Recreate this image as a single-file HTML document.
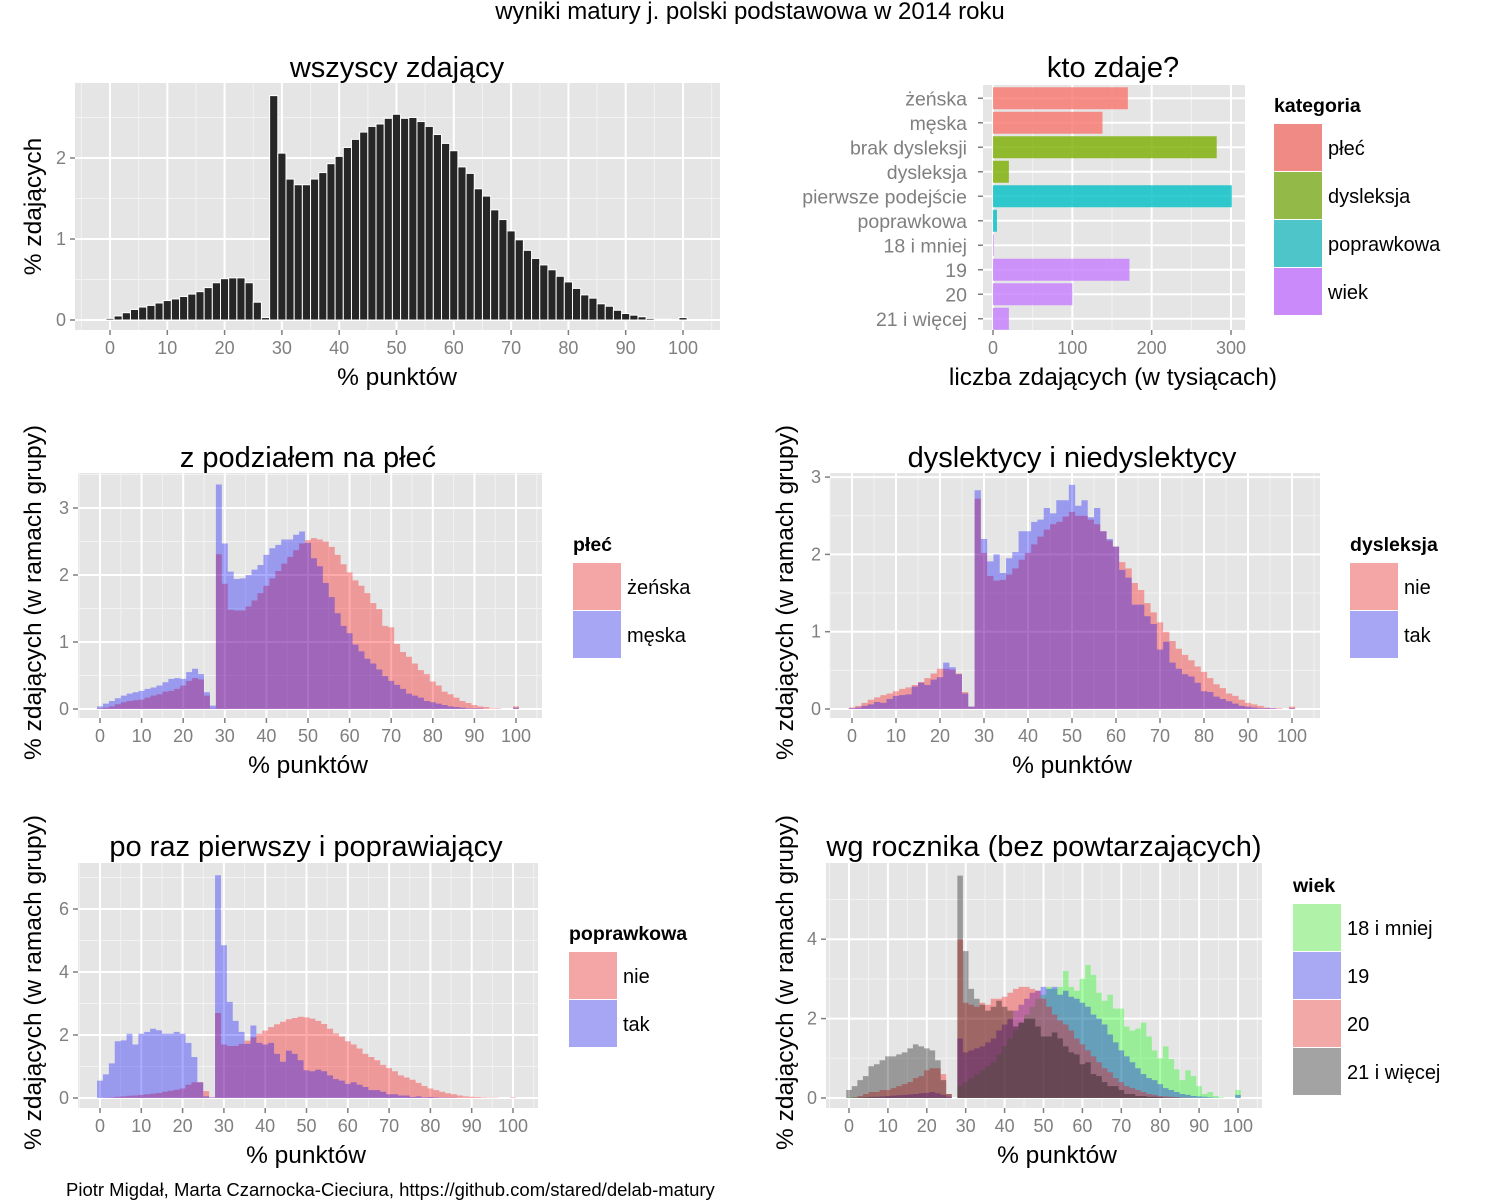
<!DOCTYPE html>
<html><head><meta charset="utf-8">
<style>
html,body{margin:0;padding:0;background:#fff;}
svg{display:block;font-family:"Liberation Sans","DejaVu Sans",sans-serif;}
</style></head>
<body>
<svg id="root" width="1500" height="1200" viewBox="0 0 1500 1200" xmlns="http://www.w3.org/2000/svg">
<rect x="0" y="0" width="1500" height="1200" fill="#fff"/>
<text x="750" y="19" text-anchor="middle" font-size="24" fill="#000">wyniki matury j. polski podstawowa w 2014 roku</text>
<text x="66" y="1196" font-size="18.5" fill="#000">Piotr Migdał, Marta Czarnocka-Cieciura, https://github.com/stared/delab-matury</text>
</svg>
<script>
// ---------- data ----------
const allScores = [0.02,0.05,0.09,0.13,0.16,0.18,0.21,0.24,0.26,0.29,0.32,0.35,0.40,0.46,0.51,0.52,0.52,0.46,0.22,0.03,
2.77,2.06,1.74,1.67,1.67,1.74,1.82,1.93,2.02,2.13,2.23,2.32,2.39,2.42,2.49,2.54,2.49,2.5,2.45,2.39,2.29,2.18,2.09,1.89,1.81,1.62,1.53,1.36,1.24,1.1,0.99,0.86,0.76,0.68,0.62,0.54,0.47,0.39,0.31,0.27,0.2,0.17,0.12,0.08,0.06,0.04,0.02,0.01,0.01,0,0.03];

const kategorie = ["żeńska","męska","brak dysleksji","dysleksja","pierwsze podejście","poprawkowa","18 i mniej","19","20","21 i więcej"];
const liczba = [170,138,282,20,301,5,1,172,100,20];
const grupa = [0,0,1,1,2,2,3,3,3,3];
const grupyNazwy = ["płeć","dysleksja","poprawkowa","wiek"];

const female = [0.01,0.02,0.04,0.07,0.1,0.12,0.13,0.14,0.17,0.2,0.22,0.26,0.27,0.3,0.35,0.42,0.46,0.44,0.2,0.01,
2.31,1.87,1.48,1.47,1.47,1.53,1.62,1.73,1.84,1.95,2.06,2.17,2.27,2.37,2.47,2.52,2.55,2.53,2.5,2.42,2.3,2.16,2.04,1.92,1.84,1.73,1.58,1.49,1.24,1.22,0.97,0.85,0.78,0.68,0.58,0.52,0.41,0.35,0.26,0.22,0.17,0.12,0.09,0.06,0.04,0.03,0.01,0.01,0,0,0.04];
const male = [0.04,0.08,0.12,0.16,0.20,0.23,0.25,0.27,0.30,0.32,0.35,0.40,0.45,0.46,0.45,0.55,0.6,0.52,0.25,0.05,
3.35,2.47,2.05,1.94,1.95,2.0,2.08,2.15,2.3,2.4,2.45,2.53,2.53,2.6,2.65,2.48,2.25,2.13,1.88,1.67,1.43,1.24,1.13,0.96,0.86,0.75,0.68,0.59,0.49,0.42,0.36,0.3,0.23,0.2,0.17,0.12,0.1,0.08,0.06,0.04,0.03,0.02,0.01,0.01,0.01,0,0,0,0,0,0.02];

const dysNie = [0.02,0.04,0.08,0.12,0.15,0.18,0.2,0.23,0.26,0.28,0.31,0.35,0.4,0.46,0.52,0.52,0.51,0.46,0.22,0.03,
2.72,2.02,1.72,1.66,1.67,1.74,1.82,1.93,2.02,2.13,2.23,2.32,2.39,2.42,2.49,2.55,2.5,2.5,2.45,2.39,2.3,2.18,2.1,1.9,1.82,1.63,1.54,1.37,1.25,1.12,1.0,0.88,0.78,0.7,0.63,0.55,0.48,0.4,0.32,0.27,0.2,0.17,0.12,0.08,0.06,0.04,0.02,0.01,0.01,0,0.03];
const dysTak = [0.01,0.02,0.04,0.06,0.09,0.08,0.13,0.17,0.18,0.19,0.29,0.34,0.31,0.38,0.41,0.6,0.54,0.45,0.2,0.03,
2.83,2.2,1.91,2.0,1.76,1.95,2.03,2.3,2.3,2.42,2.45,2.6,2.53,2.7,2.7,2.9,2.63,2.7,2.48,2.6,2.3,2.2,2.1,1.8,1.7,1.35,1.35,1.2,1.1,0.77,0.87,0.6,0.52,0.45,0.42,0.34,0.23,0.22,0.16,0.13,0.1,0.07,0.04,0.03,0.02,0.01,0.01,0.01,0,0,0.01];

const popNie = [0,0.01,0.02,0.04,0.05,0.07,0.08,0.1,0.12,0.14,0.16,0.2,0.23,0.26,0.3,0.42,0.5,0.5,0.22,0.02,
2.7,1.7,1.65,1.65,1.72,1.82,1.93,2.04,2.14,2.25,2.34,2.42,2.5,2.54,2.58,2.56,2.52,2.45,2.35,2.2,2.05,1.95,1.8,1.7,1.57,1.4,1.3,1.2,1.05,0.95,0.85,0.72,0.65,0.58,0.48,0.38,0.3,0.25,0.2,0.15,0.12,0.08,0.05,0.04,0.03,0.02,0.01,0.01,0,0,0.02];
const popTak = [0.55,0.75,1.1,1.8,1.83,2.04,1.7,2.04,2.1,2.2,2.15,2.04,2.04,2.1,2.04,1.75,1.3,0.5,0.05,0.02,
7.07,4.85,3.05,2.45,2.1,1.72,2.3,1.75,1.7,1.75,1.4,1.15,1.5,1.4,1.2,0.88,0.85,0.9,0.85,0.72,0.6,0.55,0.45,0.5,0.42,0.35,0.25,0.25,0.2,0.12,0.12,0.08,0.08,0.03,0.05,0.02,0.03,0.02,0.01,0.01,0.01,0,0,0,0,0,0,0,0,0,0];

const wiek18 = [0.02,0.02,0.02,0.02,0.02,0.02,0.02,0.02,0.02,0.02,0.02,0.02,0.02,0.02,0.02,0.02,0.02,0.02,0,0,
0.3,0.4,0.5,0.6,0.7,0.8,0.9,1.1,1.3,1.5,1.7,1.9,2.1,2.3,2.5,2.6,2.8,2.75,2.8,3.2,2.8,2.7,3.0,3.35,3.1,2.65,2.45,2.6,2.25,2.25,1.8,1.7,1.75,1.9,1.55,1.2,1.0,1.3,0.98,0.72,0.45,0.7,0.55,0.3,0.1,0.15,0.05,0.02,0,0,0.2];
const wiek19 = [0,0,0.01,0.02,0.03,0.03,0.04,0.05,0.06,0.07,0.08,0.09,0.1,0.12,0.13,0.15,0.12,0.08,0.03,0,
1.5,1.15,1.2,1.25,1.3,1.4,1.5,1.7,1.85,2.0,2.2,2.35,2.5,2.65,2.7,2.8,2.75,2.8,2.6,2.7,2.55,2.5,2.4,2.3,2.1,2.0,1.85,1.6,1.4,1.2,1.05,0.9,0.75,0.6,0.5,0.45,0.35,0.25,0.2,0.15,0.1,0.08,0.05,0.04,0.03,0.02,0.01,0,0,0,0.08];
const wiek20 = [0,0.02,0.05,0.1,0.15,0.15,0.2,0.2,0.25,0.3,0.35,0.4,0.5,0.55,0.7,0.75,0.75,0.6,0.1,0,
4.0,2.4,2.35,2.3,2.4,2.35,2.5,2.5,2.55,2.65,2.75,2.8,2.8,2.75,2.7,2.5,2.3,2.1,1.95,1.85,1.7,1.5,1.35,1.2,1.05,0.9,0.75,0.65,0.5,0.4,0.3,0.25,0.2,0.15,0.1,0.08,0.05,0.04,0.03,0.02,0.01,0.01,0,0,0,0,0,0,0,0,0];
const wiek21 = [0.2,0.3,0.45,0.55,0.8,0.85,0.95,1.05,1.05,1.1,1.15,1.25,1.35,1.3,1.25,1.2,0.95,0.45,0.1,0,
5.6,3.7,2.75,2.5,2.35,2.2,2.3,2.45,2.3,2.2,1.8,1.9,2.0,2.0,1.8,1.55,1.55,1.65,1.5,1.3,1.15,1.1,0.85,0.9,0.6,0.55,0.4,0.3,0.3,0.2,0.1,0.1,0.05,0.05,0.03,0.03,0.02,0.01,0.01,0.01,0,0,0,0,0,0,0,0,0,0,0];

const xTicks = [0,10,20,30,40,50,60,70,80,90,100];
const barTicks = [0,100,200,300];

// ---------- helpers ----------
const NS = "http://www.w3.org/2000/svg";
const root = document.getElementById("root");
const BIN = 100/70;
const TICKF = 18, TITLEF = 29, AXF = 24.5;
function mk(tag, attrs, parent, txt){
  const e = document.createElementNS(NS, tag);
  for (const k in attrs) e.setAttribute(k, attrs[k]);
  if (txt !== undefined) e.textContent = txt;
  (parent || root).appendChild(e);
  return e;
}
function panel(c){
  const g = mk("g", {});
  
  
  const bg = mk("rect", {x:c.x0, y:c.y0, width:c.x1-c.x0, height:c.y1-c.y0, fill:"#E5E5E5"}, g);
  
  
  c.xs = v => c.xa + (c.xb - c.xa) * v / 100;
  c.ys = v => c.ya - v * c.yk;
  for (let v = -5; v <= 105; v += 10){
    const x = c.xs(v); if (x < c.x0 || x > c.x1) continue;
    const l = mk("line", {x1:x, x2:x, y1:c.y0, y2:c.y1, stroke:"#F2F2F2", "stroke-width":1}, g);
    
    
  }
  for (let i = 0; i < c.yticks.length; i++){
    const y = c.ys(c.yticks[i] + c.ystep/2); if (y < c.y0) continue;
    const l = mk("line", {x1:c.x0, x2:c.x1, y1:y, y2:y, stroke:"#F2F2F2", "stroke-width":1}, g);
    
    
  }
  for (const v of xTicks){
    const x = c.xs(v);
    const l = mk("line", {x1:x, x2:x, y1:c.y0, y2:c.y1, stroke:"#fff", "stroke-width":2}, g);
    
    
    const t = mk("line", {x1:x, x2:x, y1:c.y1, y2:c.y1+5, stroke:"#7F7F7F", "stroke-width":1.5}, g);
    
    
    const tl = mk("text", {x:x, y:c.y1+24, "text-anchor":"middle", "font-size":TICKF, fill:"#7F7F7F"}, g, String(v));
    
    
  }
  for (const v of c.yticks){
    const y = c.ys(v);
    const l = mk("line", {x1:c.x0, x2:c.x1, y1:y, y2:y, stroke:"#fff", "stroke-width":2}, g);
    
    
    const t = mk("line", {x1:c.x0-5, x2:c.x0, y1:y, y2:y, stroke:"#7F7F7F", "stroke-width":1.5}, g);
    
    
    const tl = mk("text", {x:c.x0-9, y:y+6, "text-anchor":"end", "font-size":TICKF, fill:"#7F7F7F"}, g, String(v));
    
    
  }
  const ti = mk("text", {x:c.tx, y:c.ty, "text-anchor":"middle", "font-size":TITLEF, fill:"#000"}, g, c.title);
  
  
  const xl = mk("text", {x:c.tx2 || c.tx, y:c.y1+55, "text-anchor":"middle", "font-size":AXF, fill:"#000"}, g, "% punktów");
  
  
  const yl = mk("text", {x:0, y:0, "text-anchor":"middle", "font-size":AXF, fill:"#000", transform:"translate("+c.ylx+","+((c.y0+c.y1)/2 + (c.yloff||0))+") rotate(-90)"}, g, c.ylabel);
  
  
  c.g = g;
  return c;
}
function series(c, vals, color, name){
  let d = "";
  for (let k = 0; k < vals.length; k++){
    const xl = c.xs((k - 0.5) * BIN), xr = c.xs((k + 0.5) * BIN);
    const yt = c.ys(vals[k]);
    d += (k === 0 ? "M" + xl + "," + c.ys(0) + "L" : "L") + xl + "," + yt + "L" + xr + "," + yt;
  }
  d += "L" + c.xs((vals.length - 0.5) * BIN) + "," + c.ys(0) + "Z";
  const p = mk("path", {d:d, fill:color, "fill-opacity":0.33}, c.g);
  
  
}
function legend(x, y, title, labels, colors, name){
  const g = mk("g", {});
  
  
  const t = mk("text", {x:x, y:y, "font-size":19.5, "font-weight":"bold", fill:"#000"}, g, title);
  
  
  for (let i = 0; i < labels.length; i++){
    const ky = y + 12 + i * 48;
    const r = mk("rect", {x:x, y:ky, width:48, height:47, fill:colors[i]}, g);
    
    
    const l = mk("text", {x:x+54, y:ky+31, "font-size":20, fill:"#000"}, g, labels[i]);
    
    
  }
}

// ---------- panel 1 ----------
const p1 = panel({name:"all-histogram-panel", x0:75, x1:720, y0:83, y1:330, xa:110, xb:683, ya:320, yk:81, yticks:[0,1,2], ystep:1,
  title:"wszyscy zdający", tx:397, ty:77, ylabel:"% zdających", ylx:41});
for (let k = 0; k < allScores.length; k++){
  const xl = p1.xs((k - 0.5) * BIN), xr = p1.xs((k + 0.5) * BIN);
  const h = allScores[k] * p1.yk;
  const b = mk("rect", {x:xl, y:p1.ys(allScores[k]), width:xr-xl, height:h, fill:"#262626", stroke:"#fff", "stroke-width":1}, p1.g);
  
  
}

// ---------- panel 2 ----------
(function(){
  const g = mk("g", {});
  
  
  const x0 = 983, x1 = 1245, y0 = 85, y1 = 330, xa = 993, k = (1231 - 993) / 300;
  const xs = v => xa + v * k;
  const bg = mk("rect", {x:x0, y:y0, width:x1-x0, height:y1-y0, fill:"#E5E5E5"}, g);
  
  
  for (const v of [50,150,250]){
    const l = mk("line", {x1:xs(v), x2:xs(v), y1:y0, y2:y1, stroke:"#F2F2F2", "stroke-width":1}, g);
    
    
  }
  const step = (y1 - y0) / kategorie.length;
  const cy = i => y0 + step * (i + 0.5) + 1;
  for (const v of barTicks){
    const l = mk("line", {x1:xs(v), x2:xs(v), y1:y0, y2:y1, stroke:"#fff", "stroke-width":2}, g);
    
    
    const t = mk("line", {x1:xs(v), x2:xs(v), y1:y1, y2:y1+5, stroke:"#7F7F7F", "stroke-width":1.5}, g);
    
    
    const tl = mk("text", {x:xs(v), y:y1+24, "text-anchor":"middle", "font-size":TICKF, fill:"#7F7F7F"}, g, String(v));
    
    
  }
  const cols = ["#F8766D","#7CAE00","#00BFC4","#C77CFF"];
  for (let i = 0; i < kategorie.length; i++){
    const l = mk("line", {x1:x0, x2:x1, y1:cy(i), y2:cy(i), stroke:"#fff", "stroke-width":2}, g);
    
    
  }
  for (let i = 0; i < kategorie.length; i++){
    const b = mk("rect", {x:xs(0), y:cy(i)-11, width:liczba[i]*k, height:22, fill:cols[grupa[i]], "fill-opacity":0.8}, g);
    
    
    const t = mk("line", {x1:x0-5, x2:x0, y1:cy(i), y2:cy(i), stroke:"#7F7F7F", "stroke-width":1.5}, g);
    
    
    const tl = mk("text", {x:x0-16, y:cy(i)+7, "text-anchor":"end", "font-size":19.5, fill:"#7F7F7F"}, g, kategorie[i]);
    
    
  }
  const ti = mk("text", {x:1113, y:77, "text-anchor":"middle", "font-size":TITLEF, fill:"#000"}, g, "kto zdaje?");
  
  
  const xl = mk("text", {x:1113, y:385, "text-anchor":"middle", "font-size":AXF, fill:"#000"}, g, "liczba zdających (w tysiącach)");
  
  
  legend(1274, 112, "kategoria", grupyNazwy, ["#F08A84","#93BA48","#4EC6C9","#CA8AF9"], "category-legend");
})();

// ---------- panel 3 ----------
const p3 = panel({name:"gender-histogram-panel", x0:78, x1:542, y0:473, y1:718, xa:100, xb:516, ya:709, yk:67, yticks:[0,1,2,3], ystep:1,
  title:"z podziałem na płeć", tx:308, ty:467, ylabel:"% zdających (w ramach grupy)", ylx:41, yloff:-3});
series(p3, female, "#FF0000", "female-series");
series(p3, male, "#0000FF", "male-series");
legend(573, 551, "płeć", ["żeńska","męska"], ["#F4A6A6","#A6A6F4"], "gender-legend");

// ---------- panel 4 ----------
const p4 = panel({name:"dyslexia-histogram-panel", x0:830, x1:1320, y0:473, y1:718, xa:852, xb:1292, ya:709, yk:77.3, yticks:[0,1,2,3], ystep:1,
  title:"dyslektycy i niedyslektycy", tx:1072, ty:467, ylabel:"% zdających (w ramach grupy)", ylx:793, yloff:-3});
series(p4, dysNie, "#FF0000", "no-dyslexia-series");
series(p4, dysTak, "#0000FF", "dyslexia-series");
legend(1350, 551, "dysleksja", ["nie","tak"], ["#F4A6A6","#A6A6F4"], "dyslexia-legend");

// ---------- panel 5 ----------
const p5 = panel({name:"retake-histogram-panel", x0:78, x1:538, y0:863, y1:1108, xa:100, xb:513, ya:1098, yk:31.5, yticks:[0,2,4,6], ystep:2,
  title:"po raz pierwszy i poprawiający", tx:306, ty:856, ylabel:"% zdających (w ramach grupy)", ylx:41, yloff:-3});
series(p5, popNie, "#FF0000", "first-attempt-series");
series(p5, popTak, "#0000FF", "retake-series");
legend(569, 940, "poprawkowa", ["nie","tak"], ["#F4A6A6","#A6A6F4"], "retake-legend");

// ---------- panel 6 ----------
const p6 = panel({name:"age-histogram-panel", x0:826, x1:1262, y0:863, y1:1108, xa:849, xb:1238, ya:1098, yk:39.7, yticks:[0,2,4], ystep:2,
  title:"wg rocznika (bez powtarzających)", tx:1044, ty:856, tx2:1057, ylabel:"% zdających (w ramach grupy)", ylx:793, yloff:-3});
series(p6, wiek18, "#00FF00", "age-18-series");
series(p6, wiek19, "#0000FF", "age-19-series");
series(p6, wiek20, "#FF0000", "age-20-series");
series(p6, wiek21, "#000000", "age-21-series");
legend(1293, 892, "wiek", ["18 i mniej","19","20","21 i więcej"], ["#B0F3A8","#A8A8F3","#F3A8A8","#A3A3A3"], "age-legend");
</script>
</body></html>
